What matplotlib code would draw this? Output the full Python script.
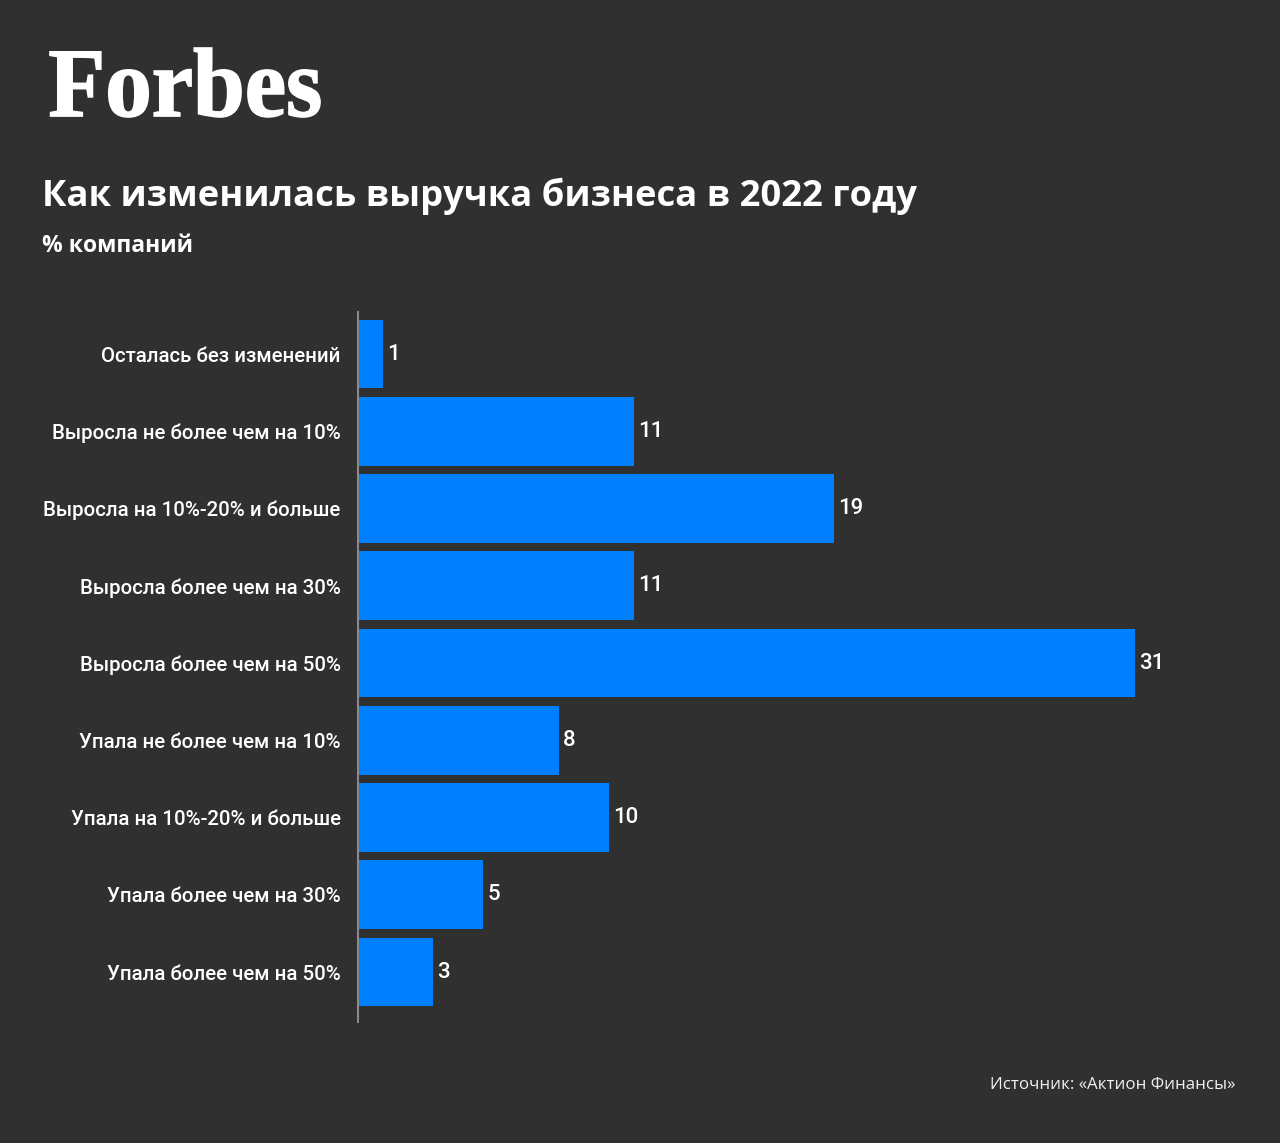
import matplotlib

matplotlib.use("Agg")
import matplotlib.pyplot as plt
from matplotlib.patches import PathPatch
from matplotlib.textpath import TextPath
from matplotlib.font_manager import FontProperties
from matplotlib.transforms import Affine2D

BG = "#303030"
BLUE = "#0080ff"

categories = [
    "Осталась без изменений",
    "Выросла не более чем на 10%",
    "Выросла на 10%-20% и больше",
    "Выросла более чем на 30%",
    "Выросла более чем на 50%",
    "Упала не более чем на 10%",
    "Упала на 10%-20% и больше",
    "Упала более чем на 30%",
    "Упала более чем на 50%",
]
values = [1, 11, 19, 11, 31, 8, 10, 5, 3]

W, H = 1280, 1143
fig = plt.figure(figsize=(W / 100, H / 100), dpi=100, facecolor=BG)

# Forbes wordmark, squeezed into its box
logo = fig.add_axes([0, 0, 1, 1], facecolor="none")
logo.set_xlim(0, W)
logo.set_ylim(H, 0)
logo.set_axis_off()
fp = FontProperties(family="Liberation Serif", weight="bold")
tp = TextPath((0, 0), "Forbes", size=100, prop=fp)
bb = tp.get_extents()
sx = (320 - 50) / bb.width
sy = (117 - 48) / bb.height
tr = Affine2D().translate(-bb.x0, -bb.y0).scale(sx, -sy).translate(50, 117)
logo.add_patch(PathPatch(tr.transform_path(tp), facecolor="white",
                         edgecolor="white", linewidth=1.2))

fig.text(42 / W, 1 - 196 / H, "Как изменилась выручка бизнеса в 2022 году",
         family="Open Sans", weight="bold", fontsize=26.2, color="white", va="center")
fig.text(42 / W, 1 - 246 / H, "% компаний",
         family="Open Sans", weight="bold", fontsize=16.5, color="white", va="center")
fig.text(1236 / W, 1 - 1085 / H, "Источник: «Актион Финансы»",
         family="Open Sans", fontsize=12.2, color="#f0f0f0", ha="right", va="center")

# bar chart
x0, x1 = 358, 1135
y_top, y_bot = 312, 1022
ax = fig.add_axes([x0 / W, 1 - y_bot / H, (x1 - x0) / W, (y_bot - y_top) / H])
ax.set_facecolor("none")
pos = list(range(len(categories)))
ax.barh(pos, values, height=0.89, color=BLUE)
ax.set_xlim(0, 31)
ax.set_ylim(8.647, -0.544)
ax.set_yticks(pos)
ax.set_yticklabels(categories, family="Roboto", weight="medium", fontsize=14.7, color="white")
ax.tick_params(axis="y", length=0, pad=12.5)
ax.set_xticks([])
for s in ["top", "right", "bottom"]:
    ax.spines[s].set_visible(False)
ax.spines["left"].set_color("#8a8a8a")
ax.spines["left"].set_linewidth(1.5)

for p, v in zip(pos, values):
    ax.annotate(str(v), (v, p), xytext=(3, 0), textcoords="offset points",
                va="center", ha="left", family="Roboto", weight="medium",
                fontsize=16, color="white")

fig.savefig("out.png", dpi=100, facecolor=BG)
